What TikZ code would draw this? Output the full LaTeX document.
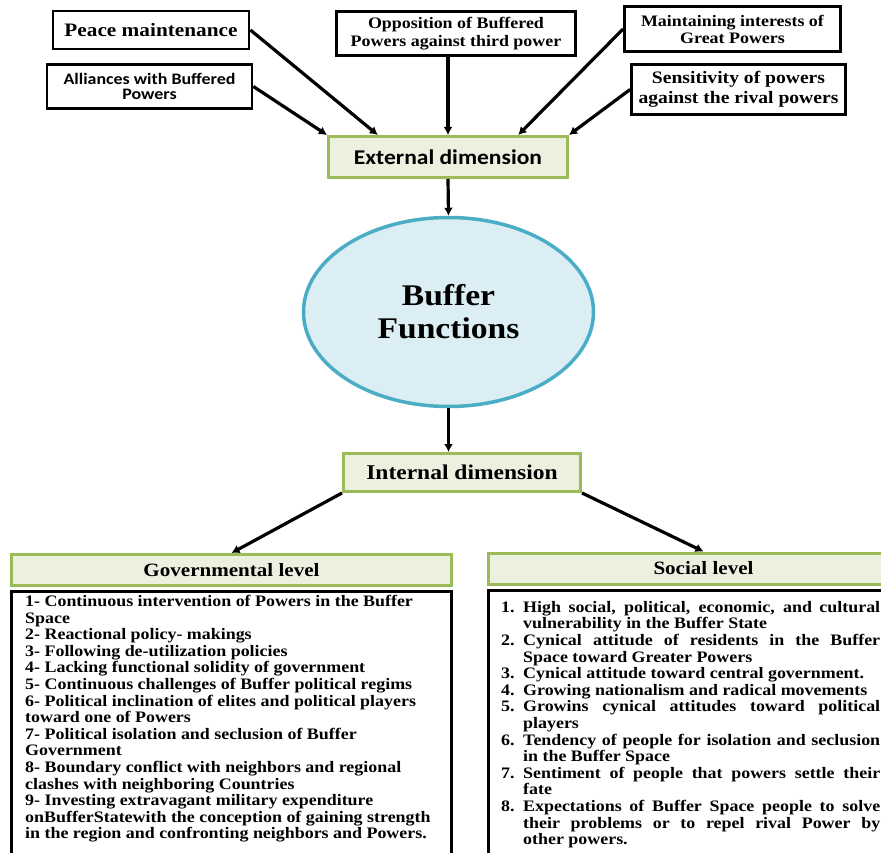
\documentclass[tikz,border=0pt]{standalone}
\usepackage{fontspec}
\setmainfont{Liberation Serif}[FakeStretch=1.12]
\newfontfamily\calibfont{Carlito}[FakeStretch=1.12]
\usetikzlibrary{arrows.meta}
\usetikzlibrary{shapes.geometric}
\usetikzlibrary{positioning, calc}
\definecolor{boxgreen}{HTML}{9BBB59}
\definecolor{fillgreen}{HTML}{EBF1DE}
\definecolor{ellblue}{HTML}{4BACC6}
\definecolor{fillblue}{HTML}{DAEEF3}
\newcommand{\setfs}[2]{\fontsize{#1}{#2}\selectfont}
\newcommand{\socitem}[2]{\par\hangindent=22pt\hangafter=1\noindent\makebox[22pt][l]{#1}#2\par}

\begin{document}
\begin{tikzpicture}[x=1pt, y=-1pt]

\pgfmathsetmacro{\GAP}{3}

\tikzset{
  topbox/.style={draw, line width=2.8pt, align=center, inner sep=0pt},
  dimbox/.style={draw=boxgreen, fill=fillgreen, line width=3pt, align=center, inner sep=0pt},
  levelbox/.style={draw=boxgreen, fill=fillgreen, line width=3pt, minimum height=31, inner sep=0pt, font=\bfseries\setfs{18.8}{20}},
  listbox/.style={draw, line width=3pt, minimum height=300, anchor=north},
  listtext/.style={anchor=north west, inner sep=0pt, font=\bfseries\setfs{16}{16.6}},
  arr/.style={line width=3.2pt, -{Latex[length=8pt, width=9pt]}},
}
\useasboundingbox (0,0) rectangle (881,853);
\clip (0,0) rectangle (881,853);

% outer factors
\node [topbox, minimum width=196, minimum height=38, font=\bfseries\setfs{19}{21}] (Peace) at (151,30) {Peace maintenance};
\node [topbox, minimum width=205, minimum height=44, font=\calibfont\bfseries\setfs{16}{15.5}] (Alli) at (149.5,86.5) {Alliances with Buffered\\Powers};
\node [topbox, minimum width=239, minimum height=44, font=\bfseries\setfs{16}{18}] (Oppo) at (456,33.5) {Opposition of Buffered\\Powers against third power};
\node [topbox, minimum width=216, minimum height=45, font=\bfseries\setfs{16}{17}] (Maint) at (732.5,29) {Maintaining interests of\\Great Powers};
\node [topbox, minimum width=214, minimum height=50, font=\bfseries\setfs{17.5}{20}] (Sens) at (738.5,89.5) {Sensitivity of powers\\against the rival powers};

\node [dimbox, minimum width=239, minimum height=41, font=\calibfont\bfseries\setfs{21}{24}] (Ext) at (448,157) {External dimension};
\node [ellipse, draw=ellblue, fill=fillblue, line width=3.5pt, minimum width=290, minimum height=189, inner sep=0pt, align=center, font=\bfseries\setfs{30}{33}] (Func) at (448.5,312) {Buffer\\Functions};
\node [dimbox, minimum width=237, minimum height=38, font=\bfseries\setfs{21}{24}] (Int) at (462,472.5) {Internal dimension};

% levels
\node [levelbox, minimum width=440] (Gov) at (231.5,570) {Governmental level};
\node [levelbox, minimum width=430] (Soc) at (703.5,568.5) {Social level};
\node [listbox, minimum width=440] (GovBox) at ($(Gov.south)+(0,\GAP)$) {};
\node [listbox, minimum width=430] (SocBox) at ($(Soc.south)+(0,\GAP)$) {};

\node [listtext, align=left] (GovList) at (25,595) {%
1- Continuous intervention of Powers in the Buffer\\
Space\\
2- Reactional policy- makings\\
3- Following de-utilization policies\\
4- Lacking functional solidity of government\\
5- Continuous challenges of Buffer political regims\\
6- Political inclination of elites and political players\\
toward one of Powers\\
7- Political isolation and seclusion of Buffer\\
Government\\
8- Boundary conflict with neighbors and regional\\
clashes with neighboring Countries\\
9- Investing extravagant military expenditure\\
onBufferStatewith the conception of gaining strength\\
in the region and confronting neighbors and Powers.};

\node [listtext, text width=379, align=justify] (SocList) at (501,595.5) {\hyphenpenalty=10000\parskip=0pt\lineskiplimit=-20pt
\socitem{1.}{High social, political, economic, and cultural\linebreak vulnerability in the Buffer State}
\socitem{2.}{Cynical attitude of residents in the Buffer\linebreak Space toward Greater Powers}
\socitem{3.}{Cynical attitude toward central government.}
\socitem{4.}{Growing nationalism and radical movements}
\socitem{5.}{Growins cynical attitudes toward political\linebreak players}
\socitem{6.}{Tendency of people for isolation and seclusion\linebreak in the Buffer Space}
\socitem{7.}{Sentiment of people that powers settle their\linebreak fate}
\socitem{8.}{Expectations of Buffer Space people to solve\linebreak their problems or to repel rival Power by\linebreak other powers.}};

\draw [arr] (Peace.east) -- ($(Ext.north west)!0.21!(Ext.north east)$);
\draw [arr] (Alli.east) -- (Ext.north west);
\draw [arr] (Ext.north |- Oppo.south) -- (Ext.north);
\draw [arr] (Maint.west) -- ($(Ext.north west)!0.79!(Ext.north east)$);
\draw [arr] (Sens.west) -- (Ext.north east);

\draw [arr] (Ext.south) -- (Func.north);
\draw [arr] (Func.south) -- (Func.south |- Int.north);
\draw [arr] (Int.south west) -- (Gov.north);
\draw [arr] (Int.south east) -- (Soc.north);

\end{tikzpicture}
\end{document}
